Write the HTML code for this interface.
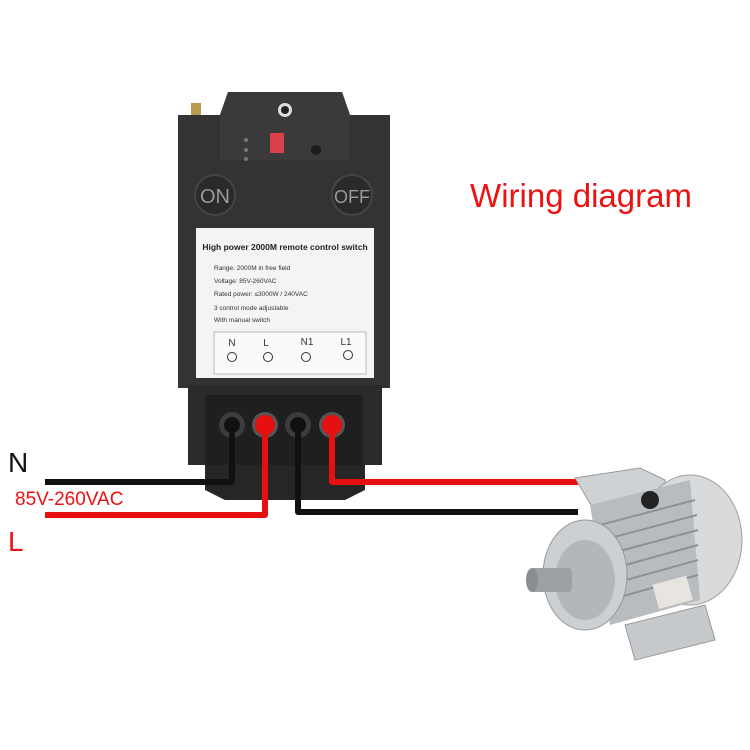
<!DOCTYPE html>
<html><head><style>body{margin:0;background:#fff}svg{display:block}</style></head><body>
<svg width="750" height="750" viewBox="0 0 750 750" xmlns="http://www.w3.org/2000/svg" font-family="Liberation Sans, sans-serif">
<rect width="750" height="750" fill="#fff"/>
<!-- antenna -->
<rect x="191" y="103" width="10" height="14" fill="#b89a50"/>
<!-- body -->
<path d="M228 92 L342 92 L350 115 L390 115 L390 388 L178 388 L178 115 L220 115 Z" fill="#333"/>
<path d="M228 92 L342 92 L350 115 L350 160 L220 160 L220 115 Z" fill="#3a3a3a"/>
<circle cx="285" cy="110" r="7" fill="#ddd"/><circle cx="285" cy="110" r="4" fill="#222"/>
<rect x="270" y="133" width="14" height="20" fill="#d9404a"/>
<circle cx="316" cy="150" r="5" fill="#1c1c1c"/>
<circle cx="246" cy="140" r="2" fill="#777"/><circle cx="246" cy="150" r="2" fill="#777"/><circle cx="246" cy="159" r="2" fill="#777"/>
<circle cx="215" cy="195" r="20" fill="#2a2a2a" stroke="#444" stroke-width="2"/>
<text x="215" y="203" font-size="20" fill="#999" text-anchor="middle">ON</text>
<circle cx="352" cy="195" r="20" fill="#2a2a2a" stroke="#444" stroke-width="2"/>
<text x="352" y="203" font-size="18" fill="#999" text-anchor="middle">OFF</text>
<!-- label -->
<rect x="196" y="228" width="178" height="150" fill="#f4f4f4"/>
<text x="285" y="250" font-size="8.5" fill="#222" text-anchor="middle" font-weight="bold">High power 2000M remote control switch</text>
<g font-size="6.5" fill="#333">
<text x="214" y="270">Range: 2000M in free field</text>
<text x="214" y="283">Voltage: 85V-260VAC</text>
<text x="214" y="296">Rated power: ≤3000W / 240VAC</text>
<text x="214" y="310">3 control mode adjustable</text>
<text x="214" y="322">With manual switch</text></g>
<rect x="214" y="332" width="152" height="42" fill="#fafafa" stroke="#aaa" stroke-width="0.8"/>
<g font-size="10" fill="#333" text-anchor="middle">
<text x="232" y="346">N</text><text x="266" y="346">L</text><text x="307" y="345">N1</text><text x="346" y="345">L1</text></g>
<g fill="none" stroke="#333" stroke-width="1"><circle cx="232" cy="357" r="4.5"/><circle cx="268" cy="357" r="4.5"/><circle cx="306" cy="357" r="4.5"/><circle cx="348" cy="355" r="4.5"/></g>
<!-- terminal block -->
<rect x="188" y="385" width="194" height="80" fill="#2b2b2b"/>
<rect x="205" y="395" width="158" height="70" fill="#1f1f1f"/>
<path d="M205 465 L365 465 L365 490 L345 500 L225 500 L205 490 Z" fill="#262626"/>
<g fill="#3c3c3c"><circle cx="232" cy="425" r="13"/><circle cx="298" cy="425" r="13"/></g>
<g fill="#555"><circle cx="265" cy="425" r="13"/><circle cx="332" cy="425" r="13"/></g>
<g fill="#111"><circle cx="232" cy="425" r="8"/><circle cx="298" cy="425" r="8"/></g>
<g fill="#e61010"><circle cx="265" cy="425" r="10"/><circle cx="332" cy="425" r="10"/></g>
<!-- wires -->
<g fill="none" stroke-width="6" stroke-linejoin="round">
<path d="M45 482 L232 482 L232 425" stroke="#111"/>
<path d="M45 515 L265 515 L265 425" stroke="#e61010"/>
<path d="M298 425 L298 512 L578 512" stroke="#111"/>
<path d="M332 425 L332 482 L578 482" stroke="#e61010"/>
</g>
<!-- motor -->
<g>
<path d="M575 478 L640 468 L665 480 L665 510 L600 520 Z" fill="#cfd2d4" stroke="#999"/>
<ellipse cx="690" cy="540" rx="52" ry="65" fill="#d8dadb" stroke="#a0a0a0"/>
<path d="M590 505 L690 480 L700 600 L610 625 Z" fill="#b8bcbf"/>
<g stroke="#8e9295" stroke-width="2"><line x1="600" y1="525" x2="695" y2="500"/><line x1="603" y1="540" x2="697" y2="515"/><line x1="605" y1="555" x2="698" y2="530"/><line x1="607" y1="570" x2="698" y2="545"/><line x1="608" y1="585" x2="698" y2="560"/><line x1="609" y1="600" x2="698" y2="575"/></g>
<rect x="655" y="580" width="35" height="25" fill="#e8e4e0" transform="rotate(-15 672 592)"/>
<circle cx="650" cy="500" r="9" fill="#222"/>
<path d="M625 625 L705 605 L715 640 L635 660 Z" fill="#c7cacc" stroke="#999"/>
<ellipse cx="585" cy="575" rx="42" ry="55" fill="#cdd0d2" stroke="#999"/>
<ellipse cx="585" cy="580" rx="30" ry="40" fill="#b4b7b9"/>
<rect x="530" y="568" width="42" height="24" rx="4" fill="#9da1a3"/>
<ellipse cx="532" cy="580" rx="6" ry="12" fill="#8a8e90"/>
</g>
<!-- texts -->
<text x="581" y="207" font-size="33" fill="#e11" text-anchor="middle">Wiring diagram</text>
<text x="8" y="472" font-size="28" fill="#111">N</text>
<text x="15" y="505" font-size="19" fill="#e11">85V-260VAC</text>
<text x="8" y="551" font-size="28" fill="#e11">L</text>
</svg>
</body></html>
